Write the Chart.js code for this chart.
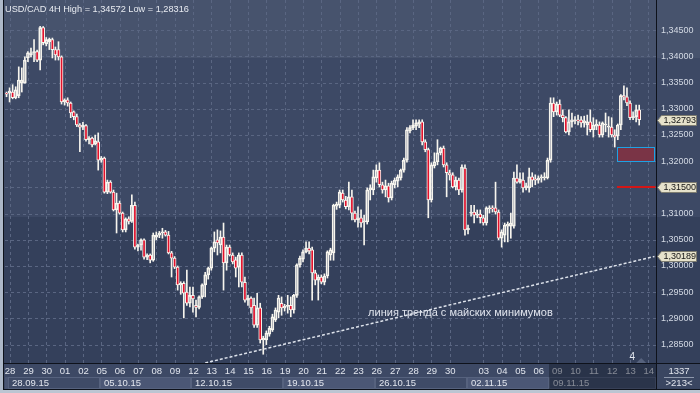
<!DOCTYPE html>
<html>
<head>
<meta charset="utf-8">
<script src="https://cdn.jsdelivr.net/npm/chart.js"></script>
<style>
html,body{margin:0;padding:0;background:#3d4965;overflow:hidden;}
canvas{display:block;}
</style>
</head>
<body>
<canvas id="c" width="700" height="393" style="width:700px;height:393px"></canvas>
<script>
// ---------------- DATA (USD/CAD 4H candles) ----------------
const opens = [
1.3329,1.3330,1.3332,1.3321,1.3325,1.3349,1.3349,1.3397,1.3403,1.3407,
1.3409,1.3393,1.3455,1.3424,1.3428,1.3432,1.3413,1.3413,1.3399,1.3313,
1.3317,1.3311,1.3294,1.3285,1.3269,1.3265,1.3268,1.3241,1.3244,1.3233,
1.3237,1.3202,1.3206,1.3141,1.3160,1.3141,1.3107,1.3120,1.3101,1.3069,
1.3090,1.3085,1.3116,1.3036,1.3040,1.3050,1.3017,1.3021,1.3011,1.3055,
1.3059,1.3063,1.3065,1.3059,1.3025,1.3015,1.2998,1.2964,1.2967,1.2950,
1.2929,1.2944,1.2925,1.2921,1.2941,1.2964,1.2983,1.2996,1.3034,1.3050,
1.3040,1.3055,1.3006,1.3036,1.3021,1.3012,1.2998,1.3021,1.2969,1.2935,
1.2939,1.2925,1.2887,1.2920,1.2859,1.2859,1.2870,1.2878,1.2897,1.2912,
1.2929,1.2920,1.2923,1.2925,1.2916,1.2944,1.3002,1.3013,1.3027,1.3034,
1.3031,1.2987,1.2973,1.2979,1.2969,1.2981,1.3021,1.3025,1.3114,1.3116,
1.3139,1.3126,1.3113,1.3132,1.3101,1.3088,1.3092,1.3084,1.3084,1.3145,
1.3145,1.3168,1.3183,1.3155,1.3145,1.3153,1.3130,1.3155,1.3162,1.3168,
1.3183,1.3202,1.3258,1.3264,1.3267,1.3271,1.3275,1.3237,1.3222,1.3126,
1.3191,1.3199,1.3216,1.3225,1.3193,1.3178,1.3174,1.3151,1.3164,1.3145,
1.3187,1.3069,1.3101,1.3103,1.3097,1.3099,1.3092,1.3082,1.3109,1.3111,
1.3111,1.3103,1.3053,1.3059,1.3076,1.3076,1.3076,1.3168,1.3160,1.3164,
1.3149,1.3149,1.3170,1.3166,1.3164,1.3168,1.3168,1.3168,1.3202,1.3311,
1.3294,1.3309,1.3288,1.3283,1.3256,1.3275,1.3277,1.3279,1.3279,1.3273,
1.3269,1.3275,1.3260,1.3267,1.3269,1.3250,1.3269,1.3265,1.3265,1.3250,
1.3248,1.3269,1.3325,1.3323,1.3311,1.3283,1.3285,1.3298];
const highs = [
1.3332,1.3340,1.3346,1.3342,1.3380,1.3378,1.3399,1.3409,1.3416,1.3432,
1.3412,1.34572,1.3457,1.3436,1.3435,1.3435,1.3418,1.3428,1.3401,1.3319,
1.3321,1.3313,1.3296,1.3290,1.3272,1.3274,1.3270,1.3247,1.3246,1.3250,
1.3254,1.3209,1.3208,1.3164,1.3163,1.3145,1.3139,1.3124,1.3103,1.3092,
1.3094,1.3136,1.3122,1.3042,1.3052,1.3052,1.3023,1.3023,1.3063,1.3065,
1.3066,1.3072,1.3068,1.3066,1.3028,1.3018,1.3000,1.2970,1.2970,1.2992,
1.2960,1.2960,1.2935,1.2943,1.2966,1.2988,1.2998,1.3036,1.3065,1.3069,
1.3067,1.3082,1.3040,1.3040,1.3025,1.3017,1.3025,1.3025,1.2979,1.2944,
1.2941,1.2939,1.2948,1.2929,1.2866,1.2876,1.2885,1.2908,1.2920,1.2944,
1.2941,1.2927,1.2944,1.2941,1.2946,1.3004,1.3019,1.3031,1.3046,1.3046,
1.3036,1.2992,1.2983,1.2983,1.2985,1.3029,1.3034,1.3118,1.3122,1.3145,
1.3145,1.3133,1.3160,1.3145,1.3105,1.3113,1.3107,1.3097,1.3149,1.3155,
1.3183,1.3193,1.3197,1.3160,1.3164,1.3158,1.3162,1.3168,1.3174,1.3185,
1.3206,1.3264,1.3268,1.3279,1.3279,1.3279,1.3279,1.3241,1.3225,1.3197,
1.3216,1.3241,1.3227,1.3229,1.3197,1.3183,1.3178,1.3170,1.3168,1.3193,
1.3193,1.3078,1.3116,1.3116,1.3107,1.3107,1.3097,1.3113,1.3115,1.3115,
1.3160,1.3107,1.3069,1.3082,1.3084,1.3101,1.3179,1.3193,1.3178,1.3178,
1.3158,1.3187,1.3178,1.3174,1.3172,1.3174,1.3178,1.3206,1.3321,1.3321,
1.3313,1.3317,1.3298,1.3285,1.3298,1.3292,1.3285,1.3288,1.3285,1.3286,
1.3288,1.3298,1.3283,1.3279,1.3275,1.3275,1.3292,1.3285,1.3283,1.3260,
1.3271,1.3327,1.3344,1.3340,1.3315,1.3294,1.3307,1.3307];
const lows = [
1.3323,1.3313,1.3319,1.3319,1.3321,1.3332,1.3349,1.3390,1.3399,1.3390,
1.3390,1.3374,1.3422,1.3420,1.3413,1.3397,1.3393,1.3393,1.3309,1.3307,
1.3305,1.3283,1.3279,1.3266,1.3218,1.3260,1.3238,1.3233,1.3227,1.3231,
1.3183,1.3198,1.3139,1.3138,1.3139,1.3105,1.3063,1.3099,1.3065,1.3065,
1.3080,1.3083,1.3032,1.3029,1.3030,1.3013,1.3012,1.3006,1.3009,1.3050,
1.3054,1.3053,1.3057,1.3023,1.2979,1.2995,1.2954,1.2946,1.2901,1.2925,
1.2922,1.2912,1.2903,1.2918,1.2938,1.2941,1.2975,1.2992,1.3027,1.3021,
1.3025,1.2954,1.2992,1.3019,1.3004,1.2979,1.2960,1.2960,1.2931,1.2925,
1.2910,1.2883,1.2883,1.2853,1.28316,1.2850,1.2866,1.2875,1.2894,1.2901,
1.2906,1.2914,1.2910,1.2903,1.2910,1.2940,1.2998,1.3008,1.3025,1.3023,
1.2935,1.2964,1.2935,1.2966,1.2964,1.2977,1.3011,1.3011,1.3108,1.3111,
1.3122,1.3109,1.3107,1.3088,1.3084,1.3074,1.3074,1.3040,1.3080,1.3126,
1.3136,1.3160,1.3151,1.3139,1.3132,1.3122,1.3126,1.3149,1.3151,1.3164,
1.3179,1.3198,1.3254,1.3260,1.3260,1.3264,1.3231,1.3218,1.3092,1.3122,
1.3187,1.3193,1.3212,1.3189,1.3132,1.3164,1.3149,1.3145,1.3136,1.3141,
1.3059,1.3061,1.3095,1.3082,1.3092,1.3082,1.3078,1.3078,1.3101,1.3103,
1.3099,1.3050,1.3036,1.3046,1.3046,1.3053,1.3072,1.3158,1.3158,1.3141,
1.3145,1.3141,1.3151,1.3155,1.3158,1.3160,1.3164,1.3166,1.3198,1.3285,
1.3288,1.3285,1.3275,1.3254,1.3250,1.3265,1.3271,1.3269,1.3265,1.3265,
1.3250,1.3256,1.3246,1.3260,1.3246,1.3246,1.3256,1.3246,1.3246,1.3227,
1.3241,1.3260,1.3317,1.3306,1.3279,1.3279,1.3275,1.3269];
const closes = [
1.3328,1.3334,1.3321,1.3336,1.3355,1.3355,1.3393,1.3407,1.3407,1.3409,
1.3393,1.3455,1.3426,1.3432,1.3433,1.3413,1.3403,1.3399,1.3313,1.3317,
1.3311,1.3292,1.3285,1.3269,1.3265,1.3269,1.3241,1.3244,1.3231,1.3239,
1.3202,1.3206,1.3141,1.3160,1.3141,1.3107,1.3120,1.3101,1.3069,1.3090,
1.3085,1.3116,1.3036,1.3040,1.3050,1.3017,1.3021,1.3011,1.3059,1.3059,
1.3063,1.3065,1.3059,1.3025,1.3015,1.2998,1.2964,1.2967,1.2948,1.2929,
1.2944,1.2937,1.2921,1.2941,1.2964,1.2983,1.2996,1.3034,1.3046,1.3044,
1.3055,1.3006,1.3036,1.3021,1.3008,1.2996,1.3021,1.2969,1.2935,1.2939,
1.2920,1.2887,1.2920,1.2859,1.2862,1.2872,1.2881,1.2903,1.2916,1.2939,
1.2920,1.2923,1.2925,1.2916,1.2944,1.3002,1.3015,1.3027,1.3034,1.3029,
1.2987,1.2973,1.2979,1.2969,1.2981,1.3027,1.3031,1.3116,1.3118,1.3141,
1.3126,1.3113,1.3132,1.3101,1.3088,1.3092,1.3082,1.3086,1.3145,1.3149,
1.3170,1.3183,1.3155,1.3145,1.3153,1.3130,1.3158,1.3164,1.3170,1.3183,
1.3202,1.3260,1.3264,1.3269,1.3273,1.3275,1.3237,1.3222,1.3126,1.3193,
1.3199,1.3216,1.3225,1.3193,1.3178,1.3174,1.3151,1.3164,1.3145,1.3189,
1.3069,1.3072,1.3103,1.3097,1.3099,1.3092,1.3082,1.3111,1.3111,1.3109,
1.3103,1.3053,1.3065,1.3078,1.3080,1.3082,1.3168,1.3160,1.3166,1.3149,
1.3153,1.3170,1.3164,1.3164,1.3168,1.3170,1.3170,1.3202,1.3311,1.3294,
1.3309,1.3288,1.3283,1.3256,1.3275,1.3279,1.3279,1.3277,1.3273,1.3277,
1.3275,1.3260,1.3269,1.3271,1.3250,1.3273,1.3271,1.3267,1.3250,1.3246,
1.3269,1.3325,1.3323,1.3311,1.3283,1.3285,1.3298,1.32793];

// x slots (4H bars) shown on the time axis, including the empty ones at the right
const slotCount = 213;
const categories = Array.from({length: slotCount}, (_, i) => 'bar ' + i);

// time-axis labels: day numbers and week starts (bar index of the first bar)
const dayLabels = ['28','29','30','01','02','05','06','07','08','09','12','13','14','15','16','19','20','21','22','23','26','27','28','29','30','03','04','05','06','09','10','11','12','13','14'];
const dayBars   = [1,7,13,19,25,31,37,43,49,55,61,67,73,79,85,91,97,103,109,115,121,127,133,139,145,156,162,168,174,180,186,192,198,204,210];
const weekLabels = ['28.09.15','05.10.15','12.10.15','19.10.15','26.10.15','02.11.15','09.11.15'];
const weekBars   = [1,31,61,91,121,151,178];

// price axis
const yTickValues = [1.285,1.29,1.295,1.30,1.305,1.31,1.315,1.32,1.325,1.33,1.335,1.34,1.345];
const yMin = 1.28149, yMax = 1.35076;

// annotations
const titleText = 'USD/CAD 4H High = 1,34572 Low = 1,28316';
const tagValues = [1.32793, 1.31500, 1.30189];
const levelValue = 1.3150;
const zoneLow = 1.3200, zoneHigh = 1.3227;
const zoneFromBar = 199.8, zoneToBar = 211.9;
const trendBars = [65, 212];          // trend line through the May lows
const trendPrices = [1.2815, 1.30182];
const trendText = 'линия тренда с майских минимумов';
const trendTextBar = 118.3, trendTextPrice = 1.2910;
const markerText = '4', markerBar = 204.7;
const cornerTop = '1337', cornerBottom = '>213<';

// ---------------- derived mark data ----------------
const bodyData  = opens.map((o, i) => [Math.min(o, closes[i]), Math.max(o, closes[i])]);
const upperWick = highs.map((h, i) => [Math.max(opens[i], closes[i]), h]);
const lowerWick = lows.map((l, i) => [l, Math.min(opens[i], closes[i])]);
const trendData = categories.map((_, i) => { const k = trendBars.indexOf(i); return k < 0 ? null : trendPrices[k]; });
const RED = '#e3112c', WHITE = '#f7f5ee';
const bodyFill = opens.map((o, i) => closes[i] < o ? RED : 'rgba(0,0,0,0)');
const fmt = v => v.toFixed(5).replace('.', ',');
const FONT = '"Liberation Sans", Arial, sans-serif';

const deco = {
  id: 'deco',
  beforeDraw(chart) {
    const {ctx, chartArea: a, scales: {x, y}} = chart;
    const W = chart.width, h = a.bottom - a.top;
    ctx.save();
    const b1 = Math.round(a.top + h * 0.16), b2 = Math.round(a.top + h * 0.598);
    ctx.fillStyle = '#47536d'; ctx.fillRect(0, 0, W, b1);
    ctx.fillStyle = '#3d4965'; ctx.fillRect(0, b1, W, b2 - b1);
    ctx.fillStyle = '#34405b'; ctx.fillRect(0, b2, W, a.bottom - b2);
    ctx.strokeStyle = '#5a6682'; ctx.lineWidth = 1; ctx.setLineDash([3, 3]);
    ctx.beginPath();
    for (const v of yTickValues) {
      const py = Math.round(y.getPixelForValue(v)) + 0.5;
      ctx.moveTo(a.left, py); ctx.lineTo(a.right, py);
    }
    for (const bi of dayBars) {
      const px = Math.round(x.getPixelForValue(bi)) + 0.5;
      ctx.moveTo(px, a.top); ctx.lineTo(px, a.bottom);
    }
    ctx.stroke();
    ctx.restore();
  },
  afterDatasetsDraw(chart) {
    const {ctx, chartArea: a, scales: {x, y}} = chart;
    ctx.save();
    // zone rectangle
    const zx0 = Math.round(x.getPixelForValue(zoneFromBar)) + 0.5, zx1 = Math.round(x.getPixelForValue(zoneToBar)) + 0.5;
    const zy0 = Math.round(y.getPixelForValue(zoneHigh)) + 0.5, zy1 = Math.round(y.getPixelForValue(zoneLow)) + 0.5;
    ctx.fillStyle = '#7a3446'; ctx.fillRect(zx0, zy0, zx1 - zx0, zy1 - zy0);
    ctx.strokeStyle = '#1ea2e4'; ctx.lineWidth = 1; ctx.strokeRect(zx0, zy0, zx1 - zx0, zy1 - zy0);
    // level line
    const ly = Math.round(y.getPixelForValue(levelValue));
    ctx.fillStyle = '#d41616'; ctx.fillRect(zx0 - 0.5, ly - 1, a.right - zx0, 2);
    // trend text
    ctx.fillStyle = '#dfe3ec'; ctx.font = '11px ' + FONT; ctx.textBaseline = 'middle'; ctx.textAlign = 'left';
    ctx.fillText(trendText, x.getPixelForValue(trendTextBar), y.getPixelForValue(trendTextPrice));
    // marker "4" with small triangle
    const mx = x.getPixelForValue(markerBar);
    ctx.font = '10px ' + FONT; ctx.fillStyle = '#e4e8f0'; ctx.textAlign = 'center';
    ctx.fillText(markerText, mx, a.bottom - 6);
    ctx.fillStyle = '#56627d';
    ctx.beginPath(); ctx.moveTo(mx + 4, a.bottom); ctx.lineTo(mx + 9, a.bottom - 5); ctx.lineTo(mx + 14, a.bottom); ctx.closePath(); ctx.fill();
    ctx.restore();
  },
  afterDraw(chart) {
    const {ctx, chartArea: a, scales: {x, y}} = chart;
    const W = chart.width, H = chart.height;
    const slot = (a.right - a.left) / slotCount;
    const axB = H - 4;
    ctx.save();
    // bottom time axis
    ctx.fillStyle = '#3d4965'; ctx.fillRect(0, a.bottom, W, axB - a.bottom);
    const wy0 = a.bottom + 14;
    ctx.fillStyle = '#4a5673'; ctx.fillRect(a.left, wy0, x.getPixelForValue(weekBars[0]) - slot / 2 - a.left, axB - wy0);
    for (let k = 0; k < weekBars.length; k++) {
      const x0 = x.getPixelForValue(weekBars[k]) - slot / 2;
      const x1 = k + 1 < weekBars.length ? x.getPixelForValue(weekBars[k + 1]) - slot / 2 : a.right;
      ctx.fillStyle = k % 2 ? '#4b5775' : '#3f4b67';
      ctx.fillRect(Math.round(x0), wy0, Math.round(x1) - Math.round(x0), axB - wy0);
      ctx.strokeStyle = '#56627e'; ctx.lineWidth = 1;
      ctx.strokeRect(Math.round(x0) + 0.5, wy0 + 0.5, Math.round(x1) - Math.round(x0) - 1, axB - wy0 - 1);
      ctx.fillStyle = '#e2e6ee'; ctx.font = '9.5px ' + FONT; ctx.textAlign = 'left'; ctx.textBaseline = 'middle';
      ctx.fillText(weekLabels[k], Math.round(x0) + 4, wy0 + 6.5);
    }
    ctx.fillStyle = '#e2e6ee'; ctx.font = '9.5px ' + FONT; ctx.textAlign = 'center'; ctx.textBaseline = 'middle';
    dayLabels.forEach((t, k) => ctx.fillText(t, x.getPixelForValue(dayBars[k]) + 0.5, a.bottom + 8.5));
    // shaded (current week) part of the axis
    const sx = x.getPixelForValue(weekBars[weekBars.length - 1]) - slot / 2;
    ctx.fillStyle = 'rgba(18,24,40,0.45)'; ctx.fillRect(sx, a.bottom, a.right - sx, axB - a.bottom);
    // corner cell
    ctx.fillStyle = '#3a4661'; ctx.fillRect(a.right, a.bottom, W - a.right, axB - a.bottom);
    ctx.fillStyle = '#e2e6ee'; ctx.textAlign = 'center';
    ctx.fillText(cornerTop, (a.right + W) / 2 + 1, a.bottom + 8.5);
    ctx.fillText(cornerBottom, (a.right + W) / 2 + 1, a.bottom + 20.5);
    ctx.fillStyle = '#8e98ac'; ctx.fillRect(a.right + 8, a.bottom + 14, W - a.right - 14, 1);
    // dark separators
    ctx.fillStyle = '#0e121b';
    ctx.fillRect(0, a.bottom, W, 1);
    ctx.fillRect(a.right, 0, 1, axB);
    ctx.fillRect(3, 0, 1, axB);
    ctx.fillRect(0, axB, W, 1);
    // frame
    ctx.fillStyle = '#adb8c8'; ctx.fillRect(0, 0, 3, H);
    ctx.fillStyle = '#bcc5d2'; ctx.fillRect(0, axB + 1, W, H - axB - 1);
    // price tags
    ctx.font = '9px ' + FONT; ctx.textAlign = 'left'; ctx.textBaseline = 'middle';
    for (const v of tagValues) {
      const ty = Math.round(y.getPixelForValue(v)) + 0.5;
      const l = a.right + 1.5, r = W - 3.5;
      ctx.beginPath();
      ctx.moveTo(l, ty); ctx.lineTo(l + 4, ty - 5); ctx.lineTo(r, ty - 5); ctx.lineTo(r, ty + 5); ctx.lineTo(l + 4, ty + 5); ctx.closePath();
      ctx.fillStyle = '#e6e2cb'; ctx.fill();
      ctx.strokeStyle = '#7d7c70'; ctx.lineWidth = 1; ctx.stroke();
      ctx.fillStyle = '#141414'; ctx.fillText(fmt(v), l + 6, ty + 0.5);
    }
    // title
    ctx.fillStyle = '#e8ebf1'; ctx.font = '9.2px ' + FONT; ctx.textAlign = 'left'; ctx.textBaseline = 'alphabetic';
    ctx.fillText(titleText, 5, 12);
    ctx.restore();
  }
};

new Chart(document.getElementById('c'), {
  type: 'bar',
  data: {
    labels: categories,
    datasets: [
      { type: 'line', data: trendData, spanGaps: true,
        borderColor: '#dde2eb', borderWidth: 1.5, borderDash: [3, 2], pointRadius: 0, fill: false, order: 0 },
      { data: bodyData, backgroundColor: bodyFill, borderColor: WHITE, borderWidth: 1, borderSkipped: false,
        barThickness: 3, grouped: false, minBarLength: 1, order: 1 },
      { data: upperWick, backgroundColor: WHITE, borderWidth: 0, barThickness: 1, grouped: false, order: 2 },
      { data: lowerWick, backgroundColor: WHITE, borderWidth: 0, barThickness: 1, grouped: false, order: 2 }
    ]
  },
  options: {
    responsive: false, animation: false, devicePixelRatio: 1,
    layout: { padding: { left: 5, top: 0, right: 0, bottom: 0 } },
    plugins: { legend: { display: false }, tooltip: { enabled: false } },
    scales: {
      x: { type: 'category', offset: true, grid: { display: false, drawTicks: false }, ticks: { display: false }, border: { display: false },
           afterFit(s) { s.height = 30; s.paddingLeft = 0; s.paddingRight = 0; } },
      y: { position: 'right', min: yMin, max: yMax,
           grid: { display: false, drawTicks: false }, border: { display: false },
           afterBuildTicks(s) { s.ticks = yTickValues.map(v => ({ value: v })); },
           ticks: { color: '#d3d9e4', font: { family: 'Liberation Sans', size: 9 }, padding: 5, autoSkip: false,
                    callback: v => fmt(v) },
           afterFit(s) { s.width = 44; s.paddingTop = 0; s.paddingBottom = 0; } }
    }
  },
  plugins: [deco]
});
</script>
</body>
</html>
